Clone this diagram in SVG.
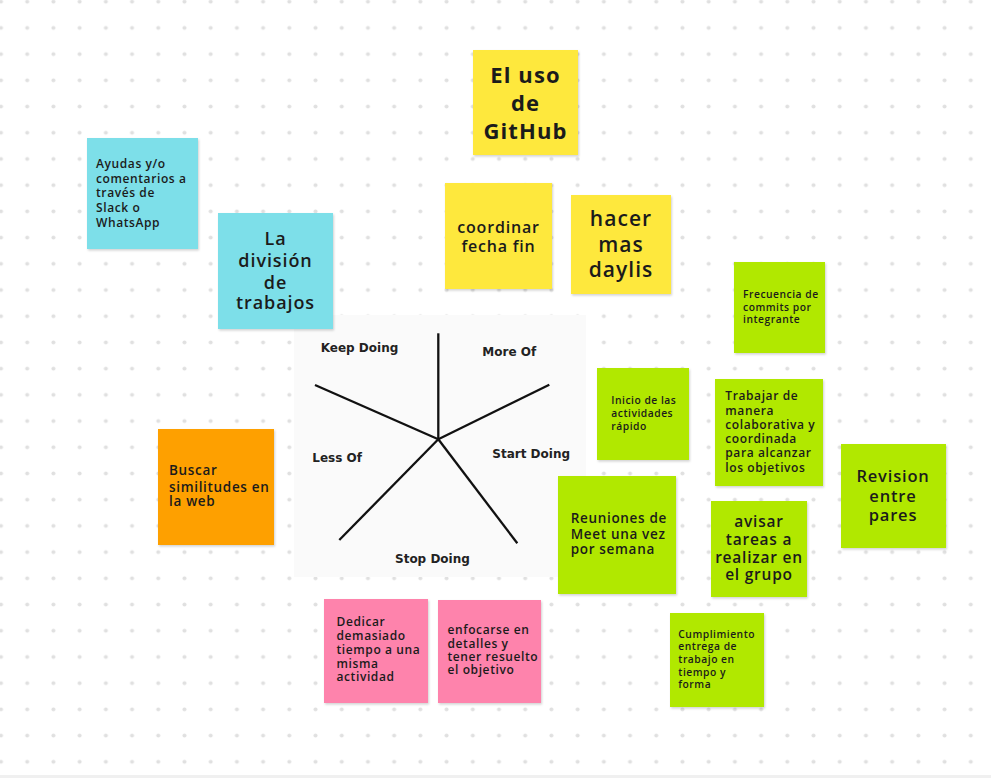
<svg xmlns="http://www.w3.org/2000/svg" width="991" height="778" viewBox="0 0 991 778">
<defs>
<pattern id="dots" patternUnits="userSpaceOnUse" x="-12.1" y="-11.4" width="26.21" height="26.21">
<circle cx="13.1" cy="13.1" r="2" fill="#e0e0e0"/>
</pattern>
<filter id="sh" x="-10%" y="-10%" width="130%" height="130%">
<feDropShadow dx="1" dy="1.5" stdDeviation="1" flood-color="#000" flood-opacity="0.18"/>
</filter>
</defs>
<style>
.note{filter:url(#sh)}
.y{fill:#fee83d}.c{fill:#7ddfe9}.g{fill:#b1e800}.o{fill:#fea000}.p{fill:#fe83ac}
text{font-family:"Open Sans","Noto Sans",sans-serif;font-weight:600;fill:#1b1b1b;letter-spacing:0.05em}
.b{font-weight:700}
.m{text-anchor:middle}
.star{font-family:"DejaVu Sans",Verdana,sans-serif;font-weight:700;font-size:12px;fill:#222;letter-spacing:0}
.ln{stroke:#111;stroke-width:2.3;fill:none;stroke-linecap:butt}
</style>
<rect width="991" height="778" fill="#ffffff"/>
<rect width="991" height="775" fill="url(#dots)"/>
<rect x="0" y="775" width="991" height="3" fill="#f0f0f0"/>

<g id="retro-star">
<rect x="294" y="315" width="292" height="262" fill="#fafafa"/>
<line class="ln" x1="438.3" y1="333.3" x2="438.3" y2="439.3"/>
<line class="ln" x1="315" y1="385" x2="438.3" y2="439.3"/>
<line class="ln" x1="549.3" y1="384.7" x2="438.3" y2="439.3"/>
<line class="ln" x1="339.3" y1="540" x2="438.3" y2="439.3"/>
<line class="ln" x1="517.3" y1="543.3" x2="438.3" y2="439.3"/>
<text class="star" x="320.7" y="351.7">Keep Doing</text>
<text class="star" x="482.3" y="355.7">More Of</text>
<text class="star" x="312.3" y="461.7">Less Of</text>
<text class="star" x="492.3" y="458.3">Start Doing</text>
<text class="star" x="395" y="563.3">Stop Doing</text>
</g>

<g id="connectors"></g>

<g id="n-github">
<rect class="note y" x="473" y="50" width="105" height="105"/>
<text class="b m" font-size="22" x="525.5"><tspan x="525.5" y="83">El uso</tspan><tspan x="525.5" y="111">de</tspan><tspan x="525.5" y="139">GitHub</tspan></text>
</g>
<g id="n-coordinar">
<rect class="note y" x="445" y="183" width="107" height="106"/>
<text class="m" font-size="16" x="498.5"><tspan x="498.5" y="232.5">coordinar</tspan><tspan x="498.5" y="252">fecha fin</tspan></text>
</g>
<g id="n-daylis">
<rect class="note y" x="571" y="195" width="100" height="99"/>
<text class="m" font-size="21" x="621"><tspan x="621" y="226">hacer</tspan><tspan x="621" y="252">mas</tspan><tspan x="621" y="277">daylis</tspan></text>
</g>
<g id="n-ayudas">
<rect class="note c" x="87" y="138" width="111" height="111"/>
<text font-size="12" x="96"><tspan x="96" y="167.5">Ayudas y/o</tspan><tspan x="96" y="182.5">comentarios a</tspan><tspan x="96" y="196.8">través de</tspan><tspan x="96" y="211.5">Slack o</tspan><tspan x="96" y="226.5">WhatsApp</tspan></text>
</g>
<g id="n-division">
<rect class="note c" x="218" y="213" width="115" height="116"/>
<text class="m" font-size="18" x="275.5"><tspan x="275.5" y="244.5">La</tspan><tspan x="275.5" y="267">división</tspan><tspan x="275.5" y="288.5">de</tspan><tspan x="275.5" y="308.5">trabajos</tspan></text>
</g>
<g id="n-buscar">
<rect class="note o" x="158" y="429" width="116" height="116"/>
<text font-size="13.5" x="169"><tspan x="169" y="475">Buscar</tspan><tspan x="169" y="491.5">similitudes en</tspan><tspan x="169" y="506">la web</tspan></text>
</g>
<g id="n-dedicar">
<rect class="note p" x="324" y="599" width="104" height="104"/>
<text font-size="12" x="336.5"><tspan x="336.5" y="626">Dedicar</tspan><tspan x="336.5" y="640">demasiado</tspan><tspan x="336.5" y="654">tiempo a una</tspan><tspan x="336.5" y="667.5">misma</tspan><tspan x="336.5" y="681">actividad</tspan></text>
</g>
<g id="n-enfocarse">
<rect class="note p" x="438" y="600" width="103" height="103"/>
<text font-size="12" x="447.5"><tspan x="447.5" y="634.3">enfocarse en</tspan><tspan x="447.5" y="647.7">detalles y</tspan><tspan x="447.5" y="661">tener resuelto</tspan><tspan x="447.5" y="674.3">el objetivo</tspan></text>
</g>
<g id="n-frecuencia">
<rect class="note g" x="734" y="262" width="91" height="91"/>
<text font-size="10.3" x="743"><tspan x="743" y="298.3">Frecuencia de</tspan><tspan x="743" y="311">commits por</tspan><tspan x="743" y="323.3">integrante</tspan></text>
</g>
<g id="n-inicio">
<rect class="note g" x="597" y="368" width="92" height="92"/>
<text font-size="10.3" x="611.3"><tspan x="611.3" y="404.3">Inicio de las</tspan><tspan x="611.3" y="417.3">actividades</tspan><tspan x="611.3" y="429.7">rápido</tspan></text>
</g>
<g id="n-trabajar">
<rect class="note g" x="715" y="379" width="108" height="107"/>
<text font-size="12" x="725.3"><tspan x="725.3" y="400.3">Trabajar de</tspan><tspan x="725.3" y="414.5">manera</tspan><tspan x="725.3" y="429">colaborativa y</tspan><tspan x="725.3" y="443">coordinada</tspan><tspan x="725.3" y="457.3">para alcanzar</tspan><tspan x="725.3" y="471.7">los objetivos</tspan></text>
</g>
<g id="n-reuniones">
<rect class="note g" x="558" y="476" width="118" height="118"/>
<text font-size="13.5" x="570.7"><tspan x="570.7" y="522.7">Reuniones de</tspan><tspan x="570.7" y="538.5">Meet una vez</tspan><tspan x="570.7" y="554.3">por semana</tspan></text>
</g>
<g id="n-avisar">
<rect class="note g" x="711" y="501" width="96" height="96"/>
<text class="m" font-size="15.5" x="759"><tspan x="759" y="526.7">avisar</tspan><tspan x="759" y="545">tareas a</tspan><tspan x="759" y="562.7">realizar en</tspan><tspan x="759" y="580">el grupo</tspan></text>
</g>
<g id="n-revision">
<rect class="note g" x="841" y="444" width="105" height="104"/>
<text class="m" font-size="16.5" x="893"><tspan x="893" y="482">Revision</tspan><tspan x="893" y="502">entre</tspan><tspan x="893" y="521">pares</tspan></text>
</g>
<g id="n-cumplimiento">
<rect class="note g" x="670" y="613" width="94" height="94"/>
<text font-size="10.3" x="678.3"><tspan x="678.3" y="637.7">Cumplimiento</tspan><tspan x="678.3" y="650.2">entrega de</tspan><tspan x="678.3" y="663.3">trabajo en</tspan><tspan x="678.3" y="675.5">tiempo y</tspan><tspan x="678.3" y="688.3">forma</tspan></text>
</g>
</svg>
